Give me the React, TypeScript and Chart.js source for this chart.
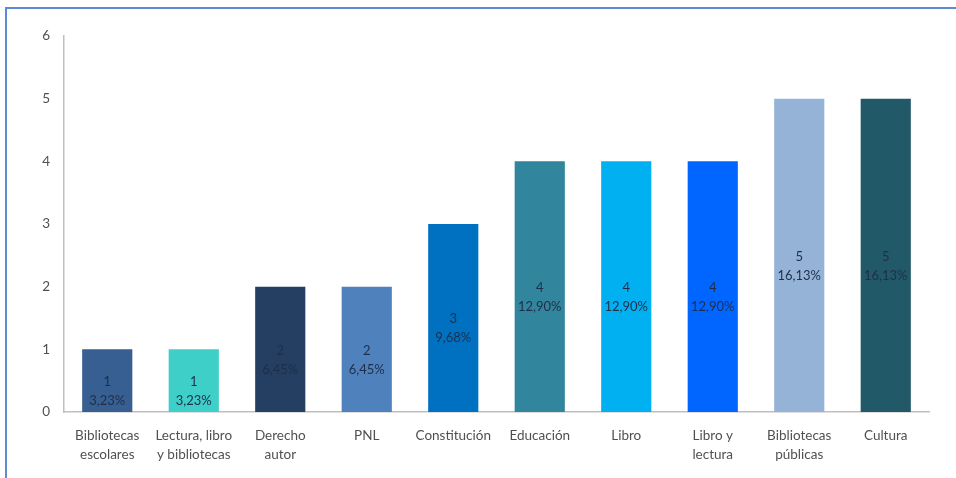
import React, { useEffect, useRef } from "react";
import { Chart, registerables } from "chart.js";

Chart.register(...registerables);

const categories: string[][] = [
  ["Bibliotecas", "escolares"],
  ["Lectura, libro", "y bibliotecas"],
  ["Derecho", "autor"],
  ["PNL"],
  ["Constitución"],
  ["Educación"],
  ["Libro"],
  ["Libro y", "lectura"],
  ["Bibliotecas", "públicas"],
  ["Cultura"],
];
const values: number[] = [1, 1, 2, 2, 3, 4, 4, 4, 5, 5];
const percentLabels: string[] = [
  "3,23%", "3,23%", "6,45%", "6,45%", "9,68%", "12,90%", "12,90%", "12,90%", "16,13%", "16,13%",
];
const barColors: string[] = [
  "#375F91", "#3ECFC8", "#243F61", "#4F81BD", "#0070C0",
  "#31859C", "#00B0F0", "#0066FF", "#95B3D7", "#215968",
];

const FONT = "Lato, 'Open Sans', sans-serif";

const labelPlugin = {
  id: "barLabels",
  afterDatasetsDraw(chart: any) {
    const ctx = chart.ctx;
    const meta = chart.getDatasetMeta(0);
    ctx.save();
    ctx.font = `13px ${FONT}`;
    ctx.fillStyle = "#1F2F4A";
    ctx.textAlign = "center";
    ctx.textBaseline = "middle";
    meta.data.forEach((bar: any, i: number) => {
      const cy = (bar.y + bar.base) / 2;
      ctx.fillText(String(values[i]), bar.x, cy + 1);
      ctx.fillText(percentLabels[i], bar.x, cy + 20);
    });
    ctx.restore();
  },
};

export default function App() {
  const ref = useRef<HTMLCanvasElement | null>(null);
  useEffect(() => {
    if (!ref.current) return;
    const chart = new Chart(ref.current, {
      type: "bar",
      data: {
        labels: categories,
        datasets: [
          {
            data: values,
            backgroundColor: barColors,
            borderWidth: 0,
            categoryPercentage: 1,
            barPercentage: 0.58,
          },
        ],
      },
      options: {
        animation: false,
        responsive: false,
        maintainAspectRatio: false,
        layout: { padding: { left: 0, top: 36, right: 27, bottom: 0 } },
        plugins: {
          legend: { display: false },
          tooltip: { enabled: false },
        },
        scales: {
          x: {
            grid: { display: false, drawTicks: false },
            border: { display: true, color: "#BFBFBF", width: 1.5 },
            ticks: {
              color: "#505050",
              font: { family: FONT, size: 13.5, lineHeight: 1.35 },
              padding: 15,
              maxRotation: 0,
              autoSkip: false,
            },
            afterFit: (s: any) => {
              s.height = 66;
            },
          },
          y: {
            min: 0,
            max: 6,
            grid: { display: false, drawTicks: false },
            border: { display: true, color: "#BFBFBF", width: 1.5 },
            ticks: {
              stepSize: 1,
              color: "#505050",
              font: { family: FONT, size: 13.5 },
              padding: 14,
            },
            afterFit: (s: any) => {
              s.width = 64;
            },
          },
        },
      },
      plugins: [labelPlugin],
    });
    return () => chart.destroy();
  }, []);

  return (
    <div style={{ position: "fixed", left: 0, top: 0, width: 956, height: 478, background: "#fff" }}>
      <div
        style={{
          position: "absolute",
          left: 5,
          top: 7,
          width: 951,
          height: 471,
          borderTop: "2px solid #5B8BD0",
          borderLeft: "2px solid #5B8BD0",
          boxSizing: "border-box",
        }}
      />
      <canvas ref={ref} width={956} height={478} style={{ position: "absolute", left: 0, top: 0 }} />
    </div>
  );
}
